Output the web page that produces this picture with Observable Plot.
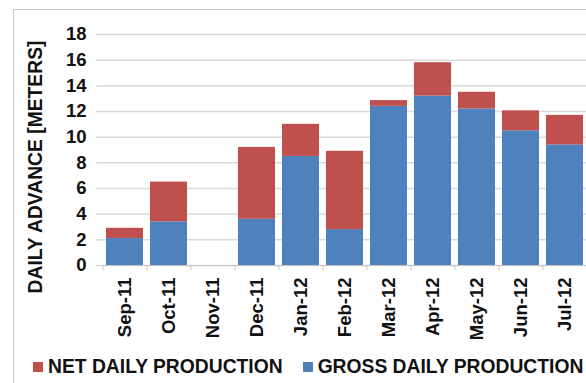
<!DOCTYPE html>
<html>
<head>
<meta charset="utf-8">
<script src="https://cdn.jsdelivr.net/npm/d3@7"></script>
<script src="https://cdn.jsdelivr.net/npm/@observablehq/plot@0.6"></script>
<style>
  html, body { margin: 0; padding: 0; background: #fff; }
  #wrap { position: relative; width: 586px; height: 383px; overflow: hidden; background: #fff;
          font-family: "Liberation Sans", Arial, sans-serif; }
  #border { position: absolute; left: 13px; top: 9px; width: 640px; height: 420px;
            border: 1px solid #c9c9c9; box-sizing: border-box; }
  #chart { position: absolute; left: 0; top: 0; }
  #legend { position: absolute; left: 33px; top: 357px; display: flex; gap: 20px;
            font-size: 19.3px; font-weight: bold; color: #111; line-height: 20px; }
  .item { display: flex; align-items: center; gap: 5px; white-space: nowrap; }
  .swatch { width: 10px; height: 10px; }
</style>
</head>
<body>
<div id="wrap">
  <div id="border"></div>
  <div id="chart"></div>
  <div id="legend"></div>
</div>
<script>
// Monthly daily advance of the tunnel heading, in meters
const months = ["Sep-11", "Oct-11", "Nov-11", "Dec-11", "Jan-12", "Feb-12",
                "Mar-12", "Apr-12", "May-12", "Jun-12", "Jul-12"];
const gross = [2.1, 3.4, 0, 3.6, 8.5, 2.8, 12.4, 13.2, 12.2, 10.5, 9.4];
const net   = [0.8, 3.1, 0, 5.6, 2.5, 6.1, 0.45, 2.6, 1.3, 1.55, 2.3];
const yTicks = [0, 2, 4, 6, 8, 10, 12, 14, 16, 18];

const seriesNames = ["NET DAILY PRODUCTION", "GROSS DAILY PRODUCTION"];
const seriesColors = ["#C0504D", "#4F81BD"];

// Long-format rows; gross first so it sits at the bottom of each stack
const rows = months.flatMap((m, i) => [
  {month: m, series: seriesNames[1], value: gross[i]},
  {month: m, series: seriesNames[0], value: net[i]}
]);

const chart = Plot.plot({
  width: 586,
  height: 345,
  marginTop: 34,
  marginBottom: 80,
  marginLeft: 102,
  marginRight: 0,
  style: {fontFamily: "'Liberation Sans', Arial, sans-serif", fontSize: "18px", fontWeight: "bold", color: "#111", background: "transparent"},
  x: {domain: months, paddingInner: 0.16, paddingOuter: 0.08, label: null},
  y: {domain: [0, 18], label: null},
  color: {domain: seriesNames, range: seriesColors},
  marks: [
    Plot.gridY(yTicks, {stroke: "#d9d9d9", strokeOpacity: 1, strokeWidth: 1.5}),
    Plot.axisY(yTicks, {tickSize: 6, tickPadding: 10, stroke: "#d9d9d9", strokeWidth: 1.5, label: null, fill: "#111", fontSize: 18.5}),
    Plot.barY(rows, {x: "month", y: "value", fill: "series"}),
    Plot.ruleY([0], {stroke: "#c4c4c4", strokeWidth: 1.2}),
    // small ticks between the month categories
    Plot.axisX({tickSize: 5, tickFormat: () => "", dx: -22, stroke: "#c4c4c4", label: null}),
    Plot.axisX({tickSize: 0, tickPadding: 12, tickRotate: -90, label: null, fill: "#111", fontSize: 18.5}),
    Plot.text(["DAILY ADVANCE [METERS]"], {
      frameAnchor: "left", textAnchor: "middle", rotate: -90, dx: -67, dy: 17,
      fontSize: 19.3, fontWeight: "bold", fill: "#111"
    })
  ]
});
document.getElementById("chart").append(chart);

// Legend, in the order shown under the chart
const legend = document.getElementById("legend");
seriesNames.forEach((name, i) => {
  const item = document.createElement("div");
  item.className = "item";
  const sw = document.createElement("div");
  sw.className = "swatch";
  sw.style.background = seriesColors[i];
  const label = document.createElement("span");
  label.textContent = name;
  item.append(sw, label);
  legend.append(item);
});
</script>
</body>
</html>
